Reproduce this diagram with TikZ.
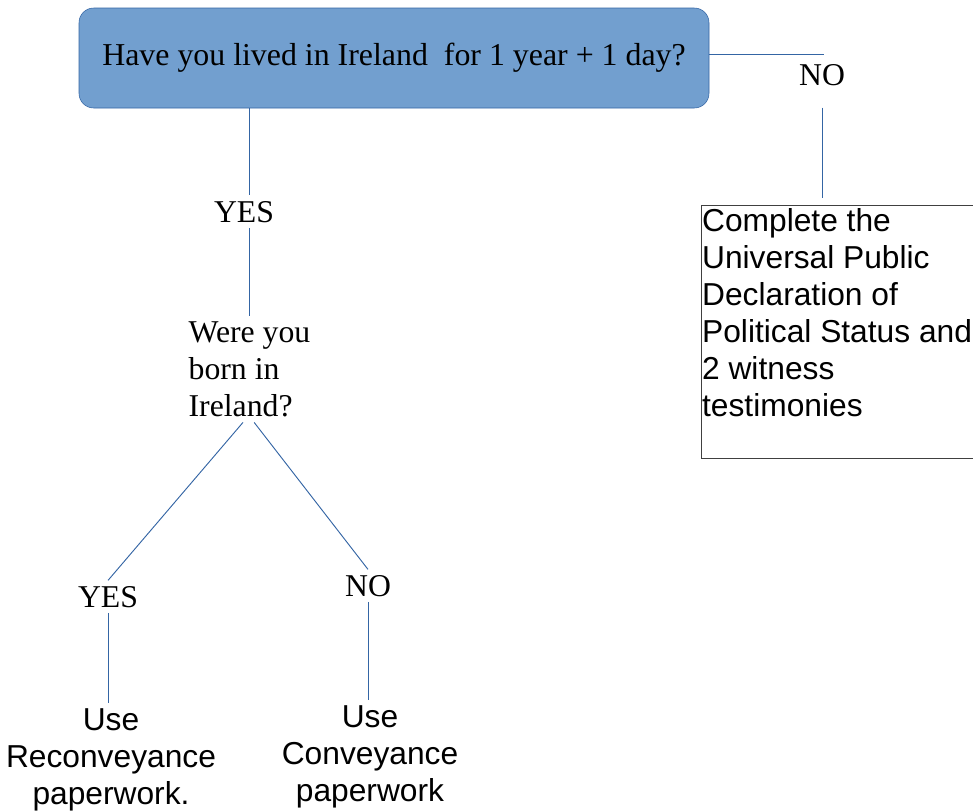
\documentclass[tikz,border=0pt]{standalone}
\usepackage{fontspec}
\setmainfont{Liberation Serif}
\setsansfont{Liberation Sans}
\usepackage{tikz}
\usetikzlibrary{positioning,calc}
\definecolor{boxblue}{HTML}{729FCF}
\definecolor{edgeblue}{HTML}{3465A4}
\definecolor{framegray}{HTML}{404040}
\tikzset{
  question/.style={draw=edgeblue, fill=boxblue, rounded corners=11pt, minimum width=472.5pt, minimum height=75pt, font=\fontsize{23.9}{27.75}\selectfont},
  answer/.style={inner sep=4pt, font=\fontsize{23.8}{27.75}\selectfont},
  outcome/.style={inner sep=4pt, align=center, font=\sffamily\fontsize{23.8}{27.75}\selectfont},
  link/.style={draw=edgeblue, line width=0.7pt}
}

\begin{document}
\begin{tikzpicture}[x=0.75pt,y=-0.75pt]
  \useasboundingbox (0,0) rectangle (973,811);
  \node[question] (Q1) at (394,58) {Have you lived in Ireland\ \ for 1 year + 1 day?};
  \node[answer, anchor=base] (NO1) at (822,85) {NO};
  \coordinate (N1) at (824,54);
  \node[draw=framegray, line width=0.7pt, inner xsep=0.5pt, inner ysep=0pt, anchor=north west, font=\sffamily\fontsize{23.8}{27.75}\selectfont] (DECL) at (701,205) {\parbox[t][189.75pt][t]{240pt}{\strut Complete the\\Universal Public\\Declaration of\\Political Status and\\2 witness\\testimonies}};
  \node[answer, anchor=base] (YES1) at (244,222) {YES};
  \node[answer, align=left, anchor=north] (Q2) at (249.5,316) {Were you\\born in\\Ireland?};
  \node[answer, anchor=base] (YES2) at (108,607) {YES};
  \node[answer, anchor=base] (NO2) at (368,596) {NO};
  \node[outcome, anchor=north] (USE1) at (111,703) {Use\\Reconveyance\\paperwork.};
  \node[outcome, anchor=north] (USE2) at (370,700) {Use\\Conveyance\\paperwork};
  \draw[link] (Q1.east |- N1) -- (N1);
  \draw[link, shorten <=12.5pt, shorten >=5pt] (NO1.south) -- (NO1.south |- DECL.north);
  \draw[link] (Q1.south -| Q2.north) -- (YES1.north -| Q2.north);
  \draw[link] (YES1.south -| Q2.north) -- (Q2.north);
  \draw[link] ([xshift=-4.9pt]Q2.south) -- (YES2.north);
  \draw[link] ([xshift=3.5pt]Q2.south) -- (NO2.north);
  \draw[link] (YES2.south) -- (YES2.south |- USE1.north);
  \draw[link] (NO2.south) -- (NO2.south |- USE2.north);
\end{tikzpicture}
\end{document}
